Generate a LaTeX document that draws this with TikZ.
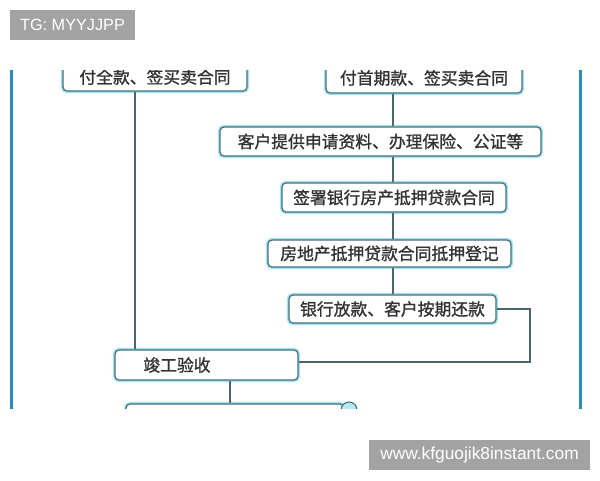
\documentclass[tikz,border=0pt]{standalone}
\usepackage{fontspec}
\setmainfont{Liberation Sans}
\newfontfamily\cjk{Noto Sans CJK SC}[AutoFakeBold=1.2]
\definecolor{boxdark}{HTML}{3F6F7C}
\definecolor{boxglow}{HTML}{A6E2EF}
\definecolor{linec}{HTML}{4A6770}
\definecolor{sideblue}{HTML}{2B8CC4}
\definecolor{wmgray}{HTML}{A3A3A3}
\definecolor{txt}{HTML}{333333}
\tikzset{
  stepbox/.style={draw=boxdark, line width=0.9pt, rounded corners=3pt, fill=white,
    preaction={draw=boxglow, line width=3.2pt},
    inner sep=0pt, font=\cjk\bfseries\fontsize{12.6}{15}\selectfont, text=txt},
  conn/.style={draw=linec, line width=1pt},
  side/.style={draw=sideblue, line width=2.3pt},
  wm/.style={fill=wmgray, text=white, inner sep=0pt, font=\fontsize{12.2}{14}\selectfont},
  lbl/.style={inner sep=0pt, font=\cjk\bfseries\fontsize{12.6}{15}\selectfont, text=txt}
}
\begin{document}
\begin{tikzpicture}[x=0.75pt,y=-0.75pt]
\useasboundingbox (0,0) rectangle (600,480);
\fill[white] (0,0) rectangle (600,480);
\begin{scope}
\clip (0,70) rectangle (600,408);
\draw[side] (11.5,60) -- (11.5,420);
\draw[side] (580.5,60) -- (580.5,420);
\node[stepbox, minimum width=184*0.75pt, minimum height=28*0.75pt] (t1) at (155,77) {付全款、签买卖合同};
\node[stepbox, minimum width=196*0.75pt, minimum height=30*0.75pt] (t2) at (424,78) {付首期款、签买卖合同};
\node[stepbox, minimum width=321*0.75pt, minimum height=29*0.75pt] (kh) at (380.5,141.5) {客户提供申请资料、办理保险、公证等};
\node[stepbox, minimum width=224*0.75pt, minimum height=29*0.75pt] (qs) at (394,197.5) {签署银行房产抵押贷款合同};
\node[stepbox, minimum width=243*0.75pt, minimum height=27*0.75pt] (fd) at (389.5,253.5) {房地产抵押贷款合同抵押登记};
\node[stepbox, minimum width=207*0.75pt, minimum height=28*0.75pt] (yh) at (392.5,309) {银行放款、客户按期还款};
\node[stepbox, minimum width=183*0.75pt, minimum height=30*0.75pt] (jg) at (206.5,365) {};
\node[lbl] (jgt) at (177,365) {竣工验收};
\node[stepbox, minimum width=218*0.75pt, minimum height=30*0.75pt] (bt) at (235,419) {};
\node[circle, draw=boxdark, line width=0.8pt, fill=boxglow!80, minimum size=16*0.75pt, inner sep=0pt] (bc) at (349,410) {};
\coordinate (lx) at (135,0);
\coordinate (rx) at (393,0);
\coordinate (dx) at (230,0);
\coordinate (ex) at (530,0);
\coordinate (ey) at (0,362);
\draw[conn] (lx |- t1.south) -- (lx |- jg.north);
\draw[conn] (rx |- t2.south) -- (rx |- kh.north);
\draw[conn] (rx |- kh.south) -- (rx |- qs.north);
\draw[conn] (rx |- fd.north) -- (rx |- qs.south);
\draw[conn] (rx |- fd.south) -- (rx |- yh.north);
\draw[conn] (yh.east) -- (ex |- yh.east) -- (ex |- ey) -- (jg.east |- ey);
\draw[conn] (dx |- jg.south) -- (dx |- bt.north);
\end{scope}
\node[wm, minimum width=125*0.75pt, minimum height=30*0.75pt] (wm1) at (72.5,25) {TG: MYYJJPP};
\node[wm, minimum width=221*0.75pt, minimum height=30*0.75pt, font=\fontsize{13}{15}\selectfont] (wm2) at (479.5,455) {www.kfguojik8instant.com};
\end{tikzpicture}
\end{document}
